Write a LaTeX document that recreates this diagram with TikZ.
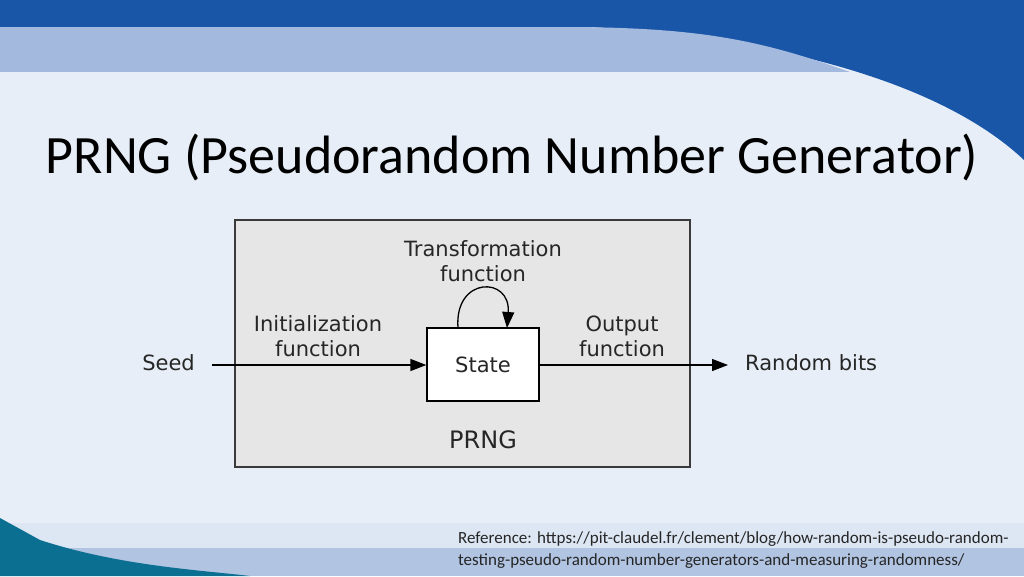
\documentclass[tikz,border=0pt]{standalone}
\usepackage{fontspec}
\setmainfont{Carlito}
\newfontfamily\diag{DejaVu Sans}
\usetikzlibrary{arrows.meta}
\definecolor{bg}{HTML}{E7EEF7}
\definecolor{dblue}{HTML}{1A56A8}
\definecolor{lblue}{HTML}{A3B9DD}
\definecolor{boxgray}{HTML}{E6E6E6}
\definecolor{edge}{HTML}{3A3A3A}
\tikzset{
  lbl/.style={font=\diag\fontsize{21}{25}\selectfont, text=black!85, align=center, inner sep=0},
  conn/.style={line width=1.3pt, -{Triangle[length=16pt,width=12pt]}},
}
\begin{document}
\begin{tikzpicture}[x=1pt,y=-1pt]
\useasboundingbox (0,0) rectangle (1024,576);
\fill[bg] (0,0) rectangle (1024,576);
% top bands
\fill[dblue] (0,0) rectangle (1024,27);
\fill[dblue] (590,27) .. controls (800,40) and (950,90) .. (1024,160) -- (1024,27) -- cycle;
\fill[lblue] (0,27) -- (560,27) .. controls (700,27) and (760,40) .. (850,72) -- (0,72) -- cycle;
\fill[bg] (0,72) rectangle (850,100);
\fill[bg] (850,72) .. controls (920,90) and (990,140) .. (1024,200) -- (1024,576) -- (0,576) -- (0,100) -- (850,100) -- cycle;
% bottom bands
\fill[bg!85!lblue] (0,523) rectangle (1024,548);
\fill[lblue!80!bg] (0,548) rectangle (1024,576);
\fill[teal!60!dblue] (0,518) -- (40,540) .. controls (120,566) and (200,570) .. (250,576) -- (0,576) -- cycle;
% title
\node (title) at (512,157) {\fontsize{54}{62}\selectfont PRNG (Pseudorandom Number Generator)};
% diagram
\draw[edge, line width=2.5pt, fill=boxgray] (235,220) rectangle (690,467);
\node[draw=black, line width=1.3pt, fill=white, minimum width=112pt, minimum height=73pt, inner sep=0] (state) at (483,364.5) {};
\node[lbl] at (state.center) {State};
\node[lbl, font=\diag\fontsize{24}{28}\selectfont] (prng) at (483,440) {PRNG};
\node[lbl, anchor=east] (seed) at (195,363) {Seed};
\node[lbl, anchor=west] (rand) at (745,363) {Random bits};
\coordinate (sin) at (212,365);
\coordinate (rout) at (728,365);
\draw[conn] (sin) -- (state.west |- sin);
\draw[conn] (state.east |- rout) -- (rout);
\node[lbl] (init) at (318,336) {Initialization\\[0pt]function};
\node[lbl] (outf) at (622,336) {Output\\[0pt]function};
\node[lbl] (trans) at (483,261) {Transformation\\[0pt]function};
\coordinate (la) at (458,328);
\coordinate (lb) at (507,328);
\draw[conn] (la) .. controls (454,276) and (511,276) .. (lb);
% reference
\node[anchor=north west, align=left, inner sep=0, font=\fontsize{17}{22}\selectfont, text=black!85] (ref) at (458,531) {Reference: https://pit-claudel.fr/clement/blog/how-random-is-pseudo-random-\\testing-pseudo-random-number-generators-and-measuring-randomness/};
\end{tikzpicture}
\end{document}
